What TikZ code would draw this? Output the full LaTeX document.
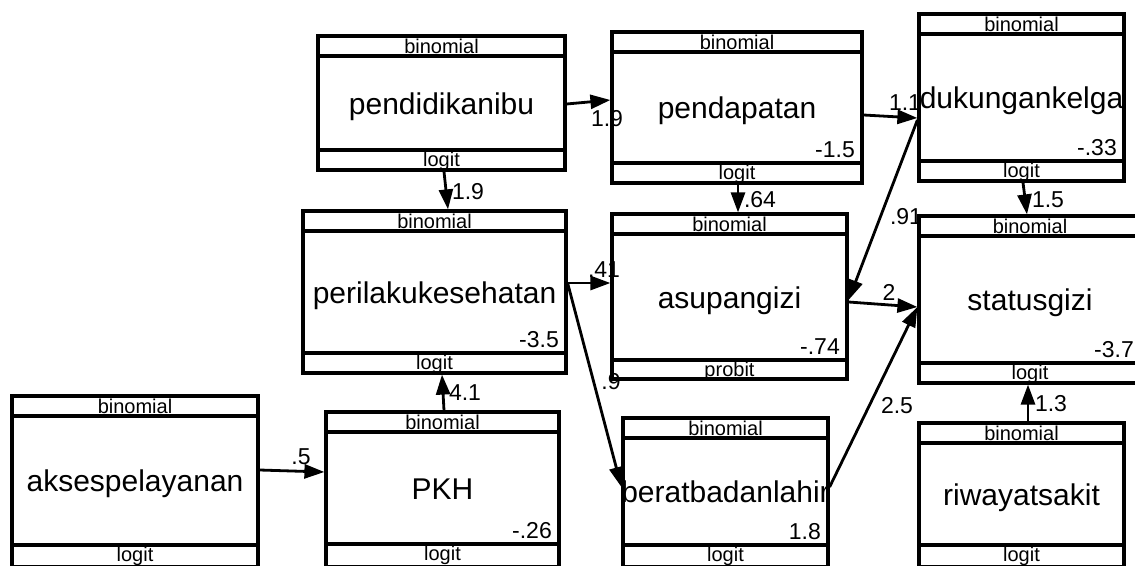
\documentclass[tikz,border=0pt]{standalone}
\usepackage{fontspec}
\setmainfont{Liberation Sans}
\usetikzlibrary{arrows.meta,calc}
\tikzset{
  boxline/.style={line width=3.2pt},
  gbox/.style={draw, rectangle, line width=3.2pt, inner sep=0pt},
  arr/.style={line width=2.8pt, -{Triangle[length=20pt,width=14pt]}},
  smalltxt/.style={font=\fontsize{20}{20}\selectfont, inner sep=0pt},
  bigtxt/.style={font=\fontsize{30}{30}\selectfont, inner sep=0pt},
  numtxt/.style={font=\fontsize{23}{23}\selectfont, inner sep=0pt},
}
% #1 name, #2 left, #3 top, #4 right, #5 bottom, #6 footer line y, #7 main text, #8 number, #9 footer text
\newcommand\gsbox[9]{%
  \node[gbox, minimum width={(#4-#2)*1pt}, minimum height={(#5-#3)*1pt}] (#1) at ({(#2+#4)/2},{(#3+#5)/2}) {};
  \draw[boxline] (#2,#3+20) -- (#4,#3+20);
  \draw[boxline] (#2,#6) -- (#4,#6);
  \node[smalltxt, anchor=base] (#1-h) at ({(#2+#4)/2},{#3+17.5}) {binomial};
  \node[smalltxt, anchor=base] (#1-f) at ({(#2+#4)/2},{#6+16}) {#9};
  \node[bigtxt, anchor=base] (#1-t) at ({(#2+#4)/2},{(#3+20+#6)/2+11}) {#7};
  \node[numtxt, anchor=base east] (#1-n) at ({#4-7},{#6-6}) {#8};
}
\begin{document}
\begin{tikzpicture}[x=1pt,y=-1pt]
\path[use as bounding box, fill=white] (0,0) rectangle (1135,565);
\clip (0,0) rectangle (1135,565);

\gsbox{pib}{318}{36}{565}{170}{150}{pendidikanibu}{}{logit}
\gsbox{pdp}{612}{32}{862}{183}{163}{pendapatan}{-1.5}{logit}
\gsbox{dkg}{919}{14}{1124}{181}{161}{dukungankelga}{-.33}{logit}
\gsbox{plk}{303}{211}{566}{373}{353}{perilakukesehatan}{-3.5}{logit}
\gsbox{asg}{612}{214}{847}{379}{360}{asupangizi}{-.74}{probit}
\gsbox{stg}{919}{216}{1141}{383}{363}{statusgizi}{-3.7}{logit}
\gsbox{akp}{12}{396}{258}{567}{545}{aksespelayanan}{}{logit}
\gsbox{pkh}{326}{412}{559}{567}{544}{PKH}{-.26}{logit}
\gsbox{bbl}{623}{418}{828}{567}{545}{beratbadanlahir}{1.8}{logit}
\gsbox{riw}{919}{423}{1124}{567}{545}{riwayatsakit}{}{logit}

\draw[arr] ([yshift=-1pt]pib.east) -- ([yshift=7.5pt]pdp.west);
\draw[arr] ([yshift=-7.5pt]pdp.east) -- ([yshift=-20.5pt]dkg.west);
\draw[arr] ([xshift=2.5pt]pib.south) -- ([xshift=13.5pt]plk.north);
\draw[arr] ([xshift=1pt]pdp.south) -- ([xshift=8.5pt]asg.north);
\draw[arr] ([xshift=1.5pt]dkg.south) -- ([xshift=-3pt]stg.north);
\draw[arr] ([yshift=-22.5pt]dkg.west) -- ([yshift=-3.5pt]asg.east);
\draw[arr] ([yshift=9pt]plk.east) -- ([yshift=13.5pt]asg.west);
\draw[arr] ([yshift=9pt]plk.east) -- ([yshift=5.5pt]bbl.west);
\draw[arr] ([yshift=-5.5pt]asg.east) -- ([yshift=-7.5pt]stg.west);
\draw[arr] ([yshift=5.5pt]bbl.east) -- ([yshift=-7.5pt]stg.west);
\draw[arr] ([xshift=6.5pt]riw.north) -- ([xshift=-2pt]stg.south);
\draw[arr] ([xshift=1.5pt]pkh.north) -- ([xshift=7.5pt]plk.south);
\draw[arr] ([yshift=11.5pt]akp.east) -- ([yshift=17.5pt]pkh.west);

\node[numtxt] (l1) at (607,119) {1.9};
\node[numtxt] (l2) at (905,103) {1.1};
\node[numtxt] (l3) at (468,192) {1.9};
\node[numtxt] (l4) at (760,200) {.64};
\node[numtxt] (l5) at (1048,200) {1.5};
\node[numtxt] (l6) at (906,217) {.91};
\node[numtxt] (l7) at (604,270) {.41};
\node[numtxt] (l8) at (611,382) {.9};
\node[numtxt] (l9) at (889,292) {2};
\node[numtxt] (l10) at (897,406) {2.5};
\node[numtxt] (l11) at (1051,404) {1.3};
\node[numtxt] (l12) at (465,393) {4.1};
\node[numtxt] (l13) at (301,457) {.5};
\end{tikzpicture}
\end{document}
